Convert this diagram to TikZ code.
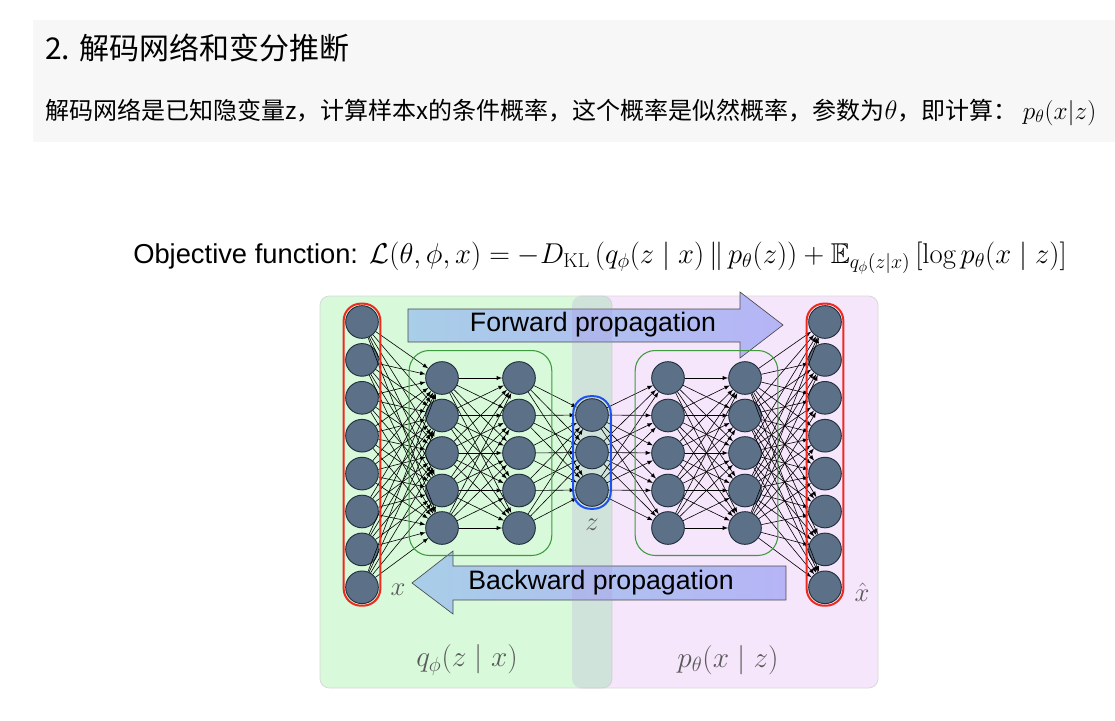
\documentclass[tikz,border=0pt]{standalone}
\usepackage{fix-cm}
\usepackage{amsmath,amssymb}
\usepackage{fontspec}
\newfontfamily\cjk{Noto Sans CJK SC}
\newfontfamily\arial{Liberation Sans}
\usepackage{tikz}
\usetikzlibrary{arrows,arrows.meta,fit}
\tikzset{>=latex}
\definecolor{headcol}{HTML}{F7F7F7}
\definecolor{Gcol}{HTML}{D8F9DA}
\definecolor{Pcol}{HTML}{F6E6FB}
\definecolor{Ncol}{HTML}{5C7187}
\definecolor{NBcol}{HTML}{22303E}
\definecolor{Rcol}{HTML}{EE2A1E}
\definecolor{Zcol}{HTML}{2050F0}
\definecolor{Lcol}{HTML}{3D9B3D}
\definecolor{Acol}{HTML}{A8CEE8}
\definecolor{Bcol}{HTML}{B6B4F6}
\definecolor{bandcol}{HTML}{AF8BDE}
\colorlet{Tcol}{black!65}
\tikzstyle{neuron}=[circle,fill=Ncol,draw=NBcol,line width=0.7pt,minimum size=24.5pt,inner sep=0]
\tikzstyle{link}=[->,line width=0.45pt]
\tikzstyle{outer box}=[draw=black!15,line width=0.6pt,rounded corners=7pt]
\tikzstyle{big arrow}=[draw=black!70,line width=0.5pt,left color=Acol,right color=Bcol]
\tikzstyle{prop text}=[font=\arial\fontsize{20}{24}\selectfont,inner sep=0]
\tikzstyle{var text}=[font=\fontsize{20}{24}\selectfont,text=Tcol,inner sep=0]

\begin{document}
\begin{tikzpicture}[x=0.75pt,y=-0.75pt]
  \useasboundingbox (0,0) rectangle (1115,721);
  \fill[white] (0,0) rectangle (1115,721);
  % header text
  \fill[headcol] (33,20) rectangle (1115,142);
  \node[anchor=west,inner sep=0,font=\cjk\fontsize{22.5}{26}\selectfont] (title) at (45,48)
    {2. 解码网络和变分推断};
  \node[anchor=west,inner sep=0,font=\cjk\fontsize{18}{22}\selectfont] (intro) at (45,112)
    {解码网络是已知隐变量z，计算样本x的条件概率，这个概率是似然概率，参数为{\fontsize{20}{24}\selectfont$\theta$}，即计算：\ {\fontsize{19}{24}\selectfont$p_\theta(x|z)$}};
  \node[anchor=west,inner sep=0,font=\fontsize{21.5}{25}\selectfont] (objective) at (133,258)
    {{\arial\fontsize{20.5}{24}\selectfont Objective function:} $\mathcal{L}(\theta,\phi,x)=-D_{\mathrm{KL}}\,(q_\phi(z\mid x)\,\|\,p_\theta(z))+\mathbb{E}_{q_\phi(z|x)}\,[\log p_\theta(x\mid z)]$};

  % encoder / decoder areas
  \draw[outer box,fill=Pcol] (572,296) rectangle (878,688);
  \draw[outer box,fill=Gcol] (320,296) rectangle (612,688);

  % propagation arrows
  \draw[big arrow] (408,309) -- (740,309) -- (740,292) -- (783,325)
                   -- (740,358) -- (740,342) -- (408,342) -- cycle;
  \draw[big arrow] (786,566) -- (453,566) -- (453,551) -- (412,583)
                   -- (453,614) -- (453,600) -- (786,600) -- cycle;
  \fill[bandcol,fill opacity=0.2,rounded corners=7pt] (572,296) rectangle (612,688);
  \node[prop text] (fwd) at (593,325) {Forward propagation};
  \node[prop text] (bwd) at (601,583) {Backward propagation};

  % layers
  \foreach \i in {1,...,8} {
    \node[neuron] (I\i) at (362,{322+37.9*(\i-1)}) {};
    \node[neuron] (O\i) at (825,{322+37.9*(\i-1)}) {};
  }
  \foreach \i in {1,...,5} {
    \node[neuron] (E\i) at (442,{378+37.5*(\i-1)}) {};
    \node[neuron] (F\i) at (519,{378+37.5*(\i-1)}) {};
    \node[neuron] (D\i) at (668,{378+37.5*(\i-1)}) {};
    \node[neuron] (G\i) at (745,{378+37.5*(\i-1)}) {};
  }
  \foreach \i in {1,...,3}
    \node[neuron] (Z\i) at (592,{415+37.5*(\i-1)}) {};

  % connections
  \foreach \i in {1,...,8}
    \foreach \j in {1,...,5} {
      \draw[link] (I\i) -- (E\j);
      \draw[link] (G\j) -- (O\i);
    }
  \foreach \i in {1,...,5}
    \foreach \j in {1,...,5} {
      \draw[link] (E\i) -- (F\j);
      \draw[link] (D\i) -- (G\j);
    }
  \foreach \i in {1,...,5}
    \foreach \j in {1,...,3} {
      \draw[link] (F\i) -- (Z\j);
      \draw[link] (Z\j) -- (D\i);
    }

  % layer frames
  \node[fit=(I1)(I8),draw=Rcol,line width=1.5pt,rounded corners=13pt,inner sep=1.2pt] (xbox) {};
  \node[fit=(O1)(O8),draw=Rcol,line width=1.5pt,rounded corners=13pt,inner sep=1.2pt] (xhatbox) {};
  \node[fit=(Z1)(Z3),draw=Zcol,line width=1.5pt,rounded corners=13pt,inner sep=1.5pt] (zbox) {};
  \node[fit=(E1)(F5),draw=Lcol,line width=0.8pt,rounded corners=15pt,inner xsep=12pt,inner ysep=8pt] (encbox) {};
  \node[fit=(D1)(G5),draw=Lcol,line width=0.8pt,rounded corners=15pt,inner xsep=12pt,inner ysep=8pt] (decbox) {};

  % variable labels
  \node[var text] (xlab) at (398,590) {$x$};
  \node[var text] (zlab) at (592,525) {$z$};
  \node[var text] (xhatlab) at (862,592) {$\hat{x}$};
  \node[var text,font=\fontsize{22}{26}\selectfont] (qlab) at (467,660) {$q_\phi(z\mid x)$};
  \node[var text,font=\fontsize{22}{26}\selectfont] (plab) at (728,660) {$p_\theta(x\mid z)$};
\end{tikzpicture}
\end{document}
